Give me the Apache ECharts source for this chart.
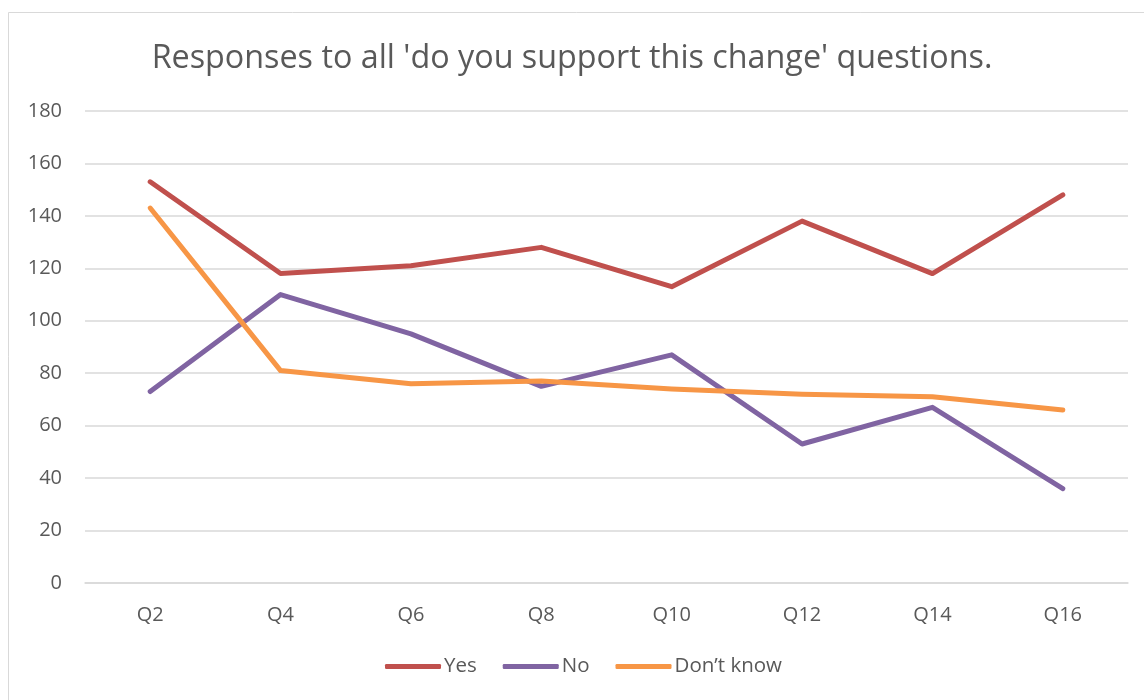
<!DOCTYPE html>
<html>
<head>
<meta charset="utf-8">
<script src="https://cdn.jsdelivr.net/npm/echarts@6/dist/echarts.min.js"></script>
<style>
html,body{margin:0;padding:0;background:#fff;}
#chart{width:1144px;height:700px;}
</style>
</head>
<body>
<div id="chart"></div>
<script>
const categories = ['Q2','Q4','Q6','Q8','Q10','Q12','Q14','Q16'];
const yesValues = [153, 118, 121, 128, 113, 138, 118, 148];
const noValues = [73, 110, 95, 75, 87, 53, 67, 36];
const dontKnowValues = [143, 81, 76, 77, 74, 72, 71, 66];
const yTicks = [0, 20, 40, 60, 80, 100, 120, 140, 160, 180];

const FONT = '"Open Sans", Lato, sans-serif';
const chart = echarts.init(document.getElementById('chart'));
chart.setOption({
  animation: false,
  backgroundColor: '#ffffff',
  title: {
    text: "Responses to all 'do you support this change' questions.",
    left: 'center',
    top: 38,
    textStyle: { fontFamily: FONT, fontSize: 32.3, fontWeight: 'normal', color: '#595959' }
  },
  graphic: [{
    type: 'rect',
    shape: { x: 8.5, y: 12.5, width: 1300, height: 900 },
    style: { fill: 'none', stroke: '#d9d9d9', lineWidth: 1 },
    silent: true
  }],
  legend: {
    bottom: 18,
    left: 380,
    itemWidth: 56,
    itemHeight: 5,
    itemGap: 26,
    icon: 'roundRect',
    textStyle: { fontFamily: FONT, fontSize: 20.5, color: '#595959', padding: [0, 0, 0, -2] },
    data: ['Yes', 'No', 'Don\u2019t know']
  },
  grid: { left: 85, right: 16, top: 111, bottom: 117, containLabel: false },
  xAxis: {
    type: 'category',
    data: categories,
    boundaryGap: true,
    axisTick: { show: false },
    axisLine: { show: true, lineStyle: { color: '#d9d9d9', width: 1.5 } },
    axisLabel: { fontFamily: FONT, fontSize: 20, color: '#595959', margin: 22 }
  },
  yAxis: {
    type: 'value',
    min: yTicks[0],
    max: yTicks[yTicks.length - 1],
    interval: 20,
    axisLine: { show: false },
    axisTick: { show: false },
    splitLine: { lineStyle: { color: '#d9d9d9', width: 1.5 } },
    axisLabel: { fontFamily: FONT, fontSize: 20, color: '#595959', margin: 23 }
  },
  series: [
    { name: 'Yes', type: 'line', data: yesValues, symbol: 'none', color: '#C0504D',
      lineStyle: { width: 5, color: '#C0504D', cap: 'round', join: 'round' } },
    { name: 'No', type: 'line', data: noValues, symbol: 'none', color: '#8064A2',
      lineStyle: { width: 5, color: '#8064A2', cap: 'round', join: 'round' } },
    { name: 'Don\u2019t know', type: 'line', data: dontKnowValues, symbol: 'none', color: '#F79646',
      lineStyle: { width: 5, color: '#F79646', cap: 'round', join: 'round' } }
  ]
});
</script>
</body>
</html>
